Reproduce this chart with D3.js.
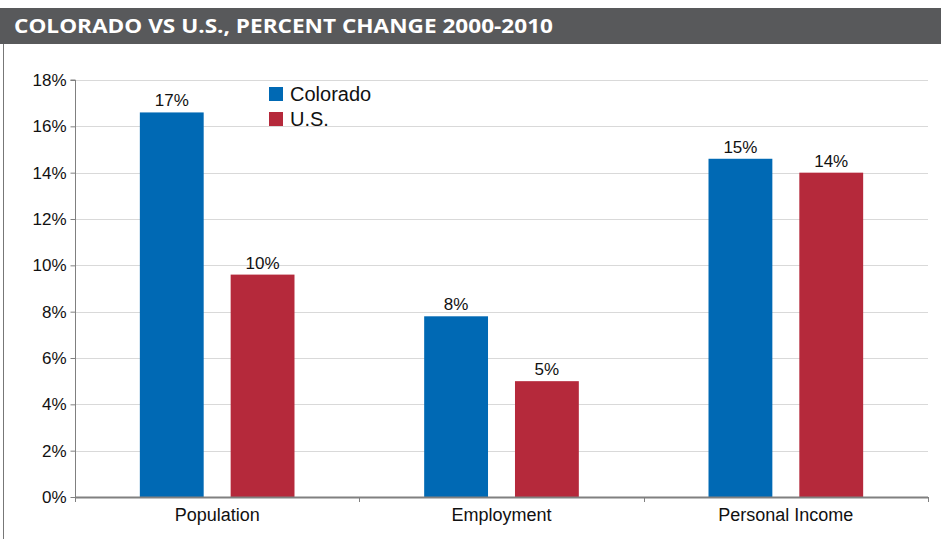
<!DOCTYPE html>
<html><head><meta charset="utf-8">
<script src="https://cdn.jsdelivr.net/npm/d3@7"></script>
<style>body{margin:0;background:#fff}svg{display:block}</style>
</head><body>
<svg id="c" width="941" height="539"></svg>
<script>
const categories = ["Population", "Employment", "Personal Income"];
const seriesNames = ["Colorado", "U.S."];
const colorado = [16.6, 7.8, 14.6];
const us = [9.6, 5.0, 14.0];
const labelsColorado = ["17%", "8%", "15%"];
const labelsUS = ["10%", "5%", "14%"];
const yTicks = [0, 2, 4, 6, 8, 10, 12, 14, 16, 18];
const colors = ["#0069b4", "#b5293b"];
const title = "COLORADO VS U.S., PERCENT CHANGE 2000-2010";

(function(){
const svg = d3.select("#c");
const font = "Liberation Sans, Arial, sans-serif";

// title bar
svg.append("rect").attr("x",0).attr("y",8).attr("width",941).attr("height",36).attr("fill","#58595b");
svg.append("text").attr("x",14).attr("y",33).attr("fill","#fff")
  .attr("font-family","Open Sans, sans-serif").attr("font-weight","bold").attr("font-size",20)
  .attr("textLength",539).attr("lengthAdjust","spacingAndGlyphs").text(title);
svg.append("line").attr("x1",3.5).attr("x2",3.5).attr("y1",44).attr("y2",539).attr("stroke","#777").attr("stroke-width",1);

const pL = 75, pR = 928, pT = 80, pB = 497;
const y = d3.scaleLinear().domain([0,18]).range([pB, pT]);
const x0 = d3.scaleBand().domain(categories).range([pL, pR]).padding(0);
const x1 = d3.scaleBand().domain(seriesNames).range([0, x0.bandwidth()]).paddingInner(0.297).paddingOuter(0.714);

// gridlines
svg.append("g").selectAll("line").data(yTicks.filter(d=>d>0)).join("line")
  .attr("x1",pL).attr("x2",pR).attr("y1",d=>Math.round(y(d))+0.5).attr("y2",d=>Math.round(y(d))+0.5)
  .attr("stroke","#d9d9d9").attr("stroke-width",1);

// y axis
const yAxis = d3.axisLeft(y).tickValues(yTicks).tickFormat(d=>d+"%").tickSize(5).tickPadding(4);
const gy = svg.append("g").attr("transform",`translate(${pL+0.5},0)`).call(yAxis);
gy.select(".domain").attr("stroke","#808080").attr("d",`M-5,${pT}H0V${pB}`);
gy.selectAll(".tick line").attr("stroke","#808080");
gy.selectAll(".tick text").attr("font-family",font).attr("font-size",17).attr("fill","#111");

const data = categories.map((c,i)=>({cat:c, vals:[{s:seriesNames[0],v:colorado[i],l:labelsColorado[i]},{s:seriesNames[1],v:us[i],l:labelsUS[i]}]}));

const g = svg.append("g").selectAll("g").data(data).join("g").attr("transform",d=>`translate(${x0(d.cat)},0)`);
g.selectAll("rect").data(d=>d.vals).join("rect")
  .attr("x",d=>x1(d.s)).attr("width",x1.bandwidth())
  .attr("y",d=>y(d.v)).attr("height",d=>y(0)-y(d.v))
  .attr("fill",(d,i)=>colors[i]);
g.selectAll("text").data(d=>d.vals).join("text")
  .attr("x",d=>x1(d.s)+x1.bandwidth()/2).attr("y",d=>y(d.v)-6)
  .attr("text-anchor","middle").attr("font-family",font).attr("font-size",17).attr("fill","#111")
  .text(d=>d.l);

// x axis
const xAxis = d3.axisBottom(x0).tickSize(0).tickPadding(11);
const gx = svg.append("g").attr("transform",`translate(0,${pB})`).call(xAxis);
gx.select(".domain").remove();
gx.selectAll(".tick text").attr("font-family",font).attr("font-size",18).attr("fill","#111");
svg.append("line").attr("x1",pL).attr("x2",pR).attr("y1",pB+0.5).attr("y2",pB+0.5).attr("stroke","#808080").attr("stroke-width",2);
const bounds = [pL, ...categories.map(c=>x0(c)+x0.bandwidth())];
svg.append("g").selectAll("line").data(bounds).join("line")
  .attr("x1",d=>Math.round(d)+0.5).attr("x2",d=>Math.round(d)+0.5).attr("y1",pB).attr("y2",pB+5)
  .attr("stroke","#808080");

// legend
const lg = svg.append("g").attr("transform","translate(269,87)");
const li = lg.selectAll("g").data(seriesNames).join("g").attr("transform",(d,i)=>`translate(0,${i*25})`);
li.append("rect").attr("width",14).attr("height",14).attr("fill",(d,i)=>colors[i]);
li.append("text").attr("x",21).attr("y",14).attr("font-family",font).attr("font-size",20).attr("fill","#111").text(d=>d);
})();
</script>
</body></html>
